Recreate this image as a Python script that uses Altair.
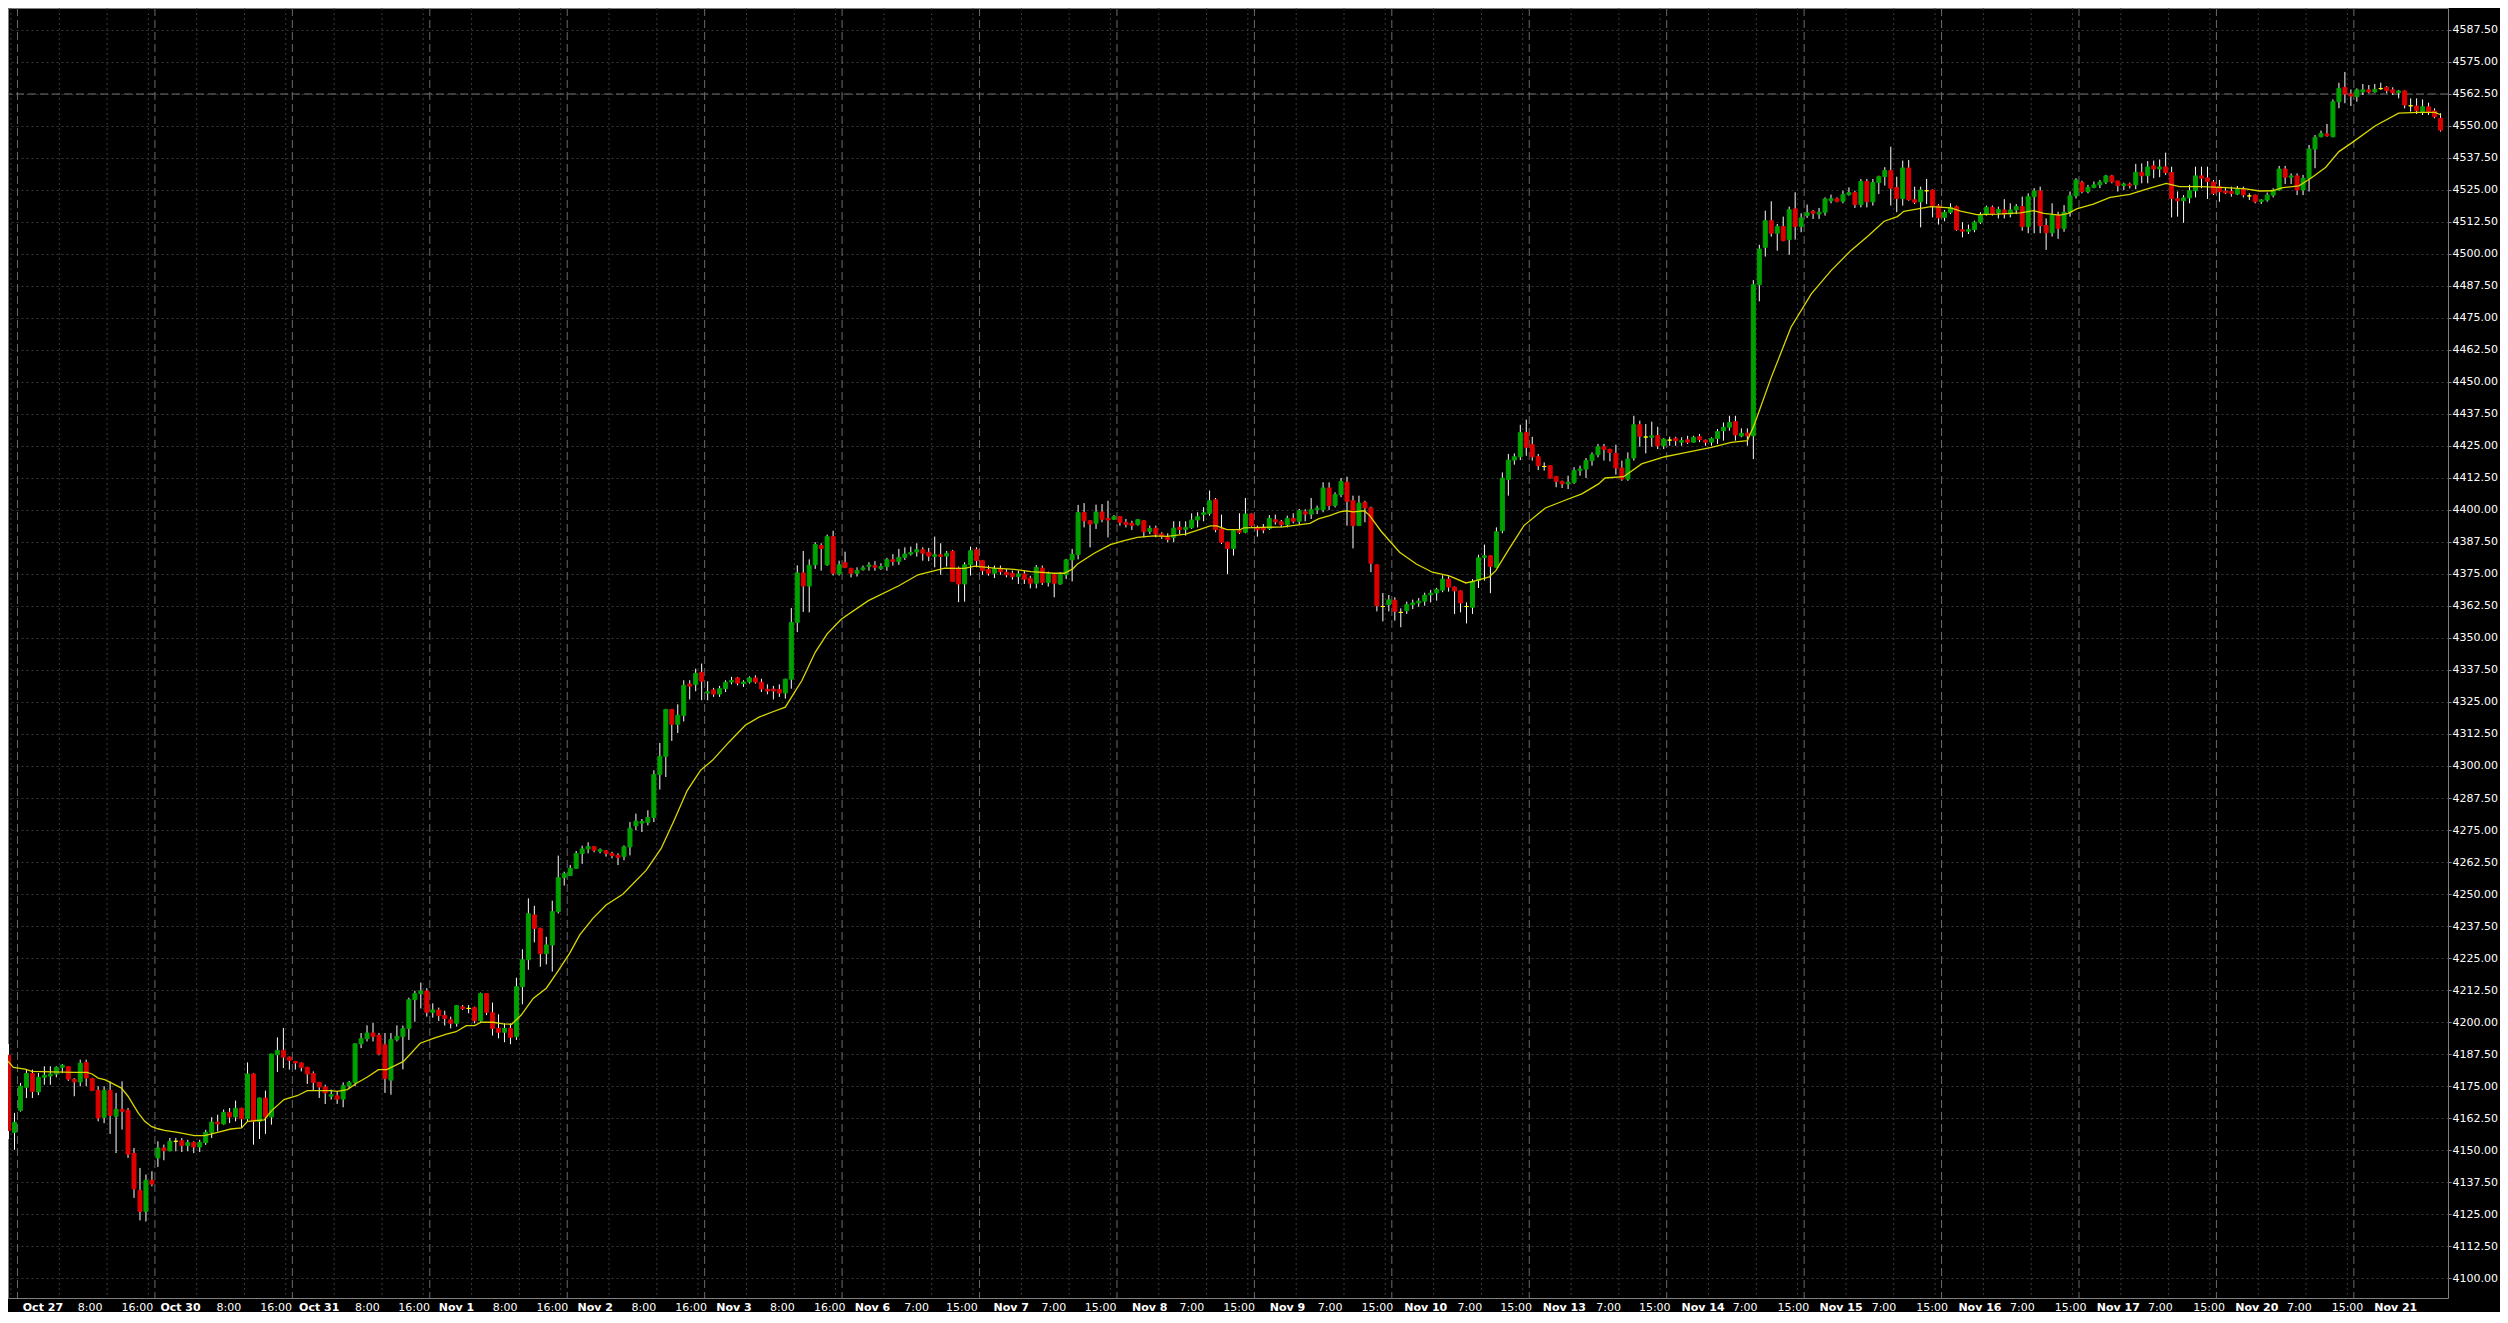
import altair as alt
import pandas as pd

# ---------------- data (H1 candles) ----------------
opens = [4187.0,4156.9,4165.5,4174.5,4179.9,4172.7,4178.4,4178.9,4179.7,4182.3,4182.6,4177.6,4176.6,4184.2,4177.9,4173.3,4162.8,4173.3,4163.2,4165.9,
4165.5,4148.7,4134.2,4126.0,4138.2,4146.9,4150.8,4149.7,4153.4,4153.6,4151.8,4152.9,4151.2,4152.9,4156.9,4160.9,4160.2,4164.7,4162.9,4166.3,
4162.2,4179.7,4161.2,4170.3,4162.9,4187.2,4188.9,4186.3,4184.6,4184.0,4182.3,4179.9,4176.4,4174.6,4171.0,4171.2,4169.9,4175.1,4176.4,4191.5,
4193.5,4195.7,4194.8,4191.1,4177.3,4193.1,4194.4,4197.5,4208.7,4211.1,4212.1,4203.8,4204.7,4202.5,4200.9,4199.5,4205.9,4205.3,4205.6,4200.5,
4211.1,4203.6,4197.5,4196.0,4197.5,4194.3,4213.8,4224.3,4241.8,4236.6,4226.7,4230.1,4243.1,4256.4,4257.2,4260.0,4265.8,4267.6,4268.5,4266.7,
4266.9,4265.8,4265.1,4264.7,4268.4,4276.6,4277.7,4278.0,4279.9,4296.7,4303.8,4322.1,4316.3,4319.8,4332.0,4331.8,4336.6,4328.5,4329.7,4328.1,
4330.2,4332.8,4334.4,4332.2,4332.8,4334.4,4332.7,4330.0,4330.0,4329.9,4328.5,4333.9,4356.1,4375.4,4370.3,4378.6,4386.1,4378.6,4389.6,4375.0,
4379.4,4377.2,4375.3,4376.7,4377.9,4378.3,4377.2,4377.9,4380.6,4379.9,4381.5,4382.8,4383.6,4384.5,4383.5,4381.9,4382.5,4382.0,4383.9,4377.3,
4371.1,4378.6,4384.5,4380.2,4376.7,4375.3,4377.2,4375.7,4375.3,4374.0,4375.0,4373.3,4371.4,4377.3,4371.7,4374.7,4371.1,4374.7,4380.5,4382.6,
4399.0,4395.8,4394.8,4399.2,4396.7,4396.4,4397.4,4395.2,4394.8,4394.3,4395.8,4391.7,4392.9,4390.6,4389.3,4389.3,4393.2,4392.4,4393.1,4396.1,
4398.3,4398.7,4404.0,4392.6,4387.4,4385.0,4391.9,4391.3,4398.4,4393.2,4393.2,4392.8,4396.2,4395.4,4394.3,4396.7,4395.6,4399.3,4398.4,4400.1,
4400.1,4408.6,4401.7,4406.0,4410.8,4403.6,4393.9,4403.0,4400.8,4378.6,4362.3,4363.0,4364.8,4360.0,4360.7,4363.0,4363.7,4364.4,4366.9,4367.6,
4368.7,4373.0,4369.9,4368.4,4362.3,4362.0,4372.4,4381.5,4382.1,4377.6,4391.9,4411.9,4419.5,4420.8,4430.2,4425.5,4420.8,4417.0,4417.3,4413.0,
4411.1,4410.2,4410.8,4415.4,4416.0,4419.3,4421.6,4424.7,4423.7,4422.1,4416.4,4412.1,4420.3,4433.3,4428.5,4428.4,4429.0,4425.1,4427.3,4428.0,
4426.5,4427.4,4426.5,4428.6,4427.3,4426.5,4427.9,4431.0,4432.3,4434.5,4428.9,4430.0,4429.0,4488.0,4502.6,4513.0,4508.1,4510.7,4505.6,4517.6,
4510.7,4515.0,4516.7,4515.6,4516.3,4520.8,4521.6,4520.6,4523.2,4524.0,4519.3,4528.3,4520.4,4527.9,4530.2,4532.6,4526.0,4521.7,4533.6,4521.2,
4520.4,4524.7,4525.0,4518.8,4514.3,4516.3,4518.5,4509.5,4508.9,4509.5,4512.4,4515.4,4518.2,4516.1,4517.2,4515.6,4517.2,4518.5,4510.7,4522.4,
4524.6,4511.1,4508.3,4515.2,4510.0,4516.3,4522.7,4528.0,4524.4,4526.0,4527.0,4528.1,4530.5,4528.5,4526.7,4527.3,4527.0,4531.9,4530.6,4534.4,
4533.2,4534.0,4531.8,4521.6,4520.8,4521.9,4524.7,4530.5,4529.7,4528.1,4526.3,4524.6,4524.4,4523.4,4525.3,4522.7,4523.0,4520.5,4521.1,4523.0,
4525.0,4533.2,4530.0,4530.5,4525.0,4529.6,4541.0,4545.8,4546.9,4545.8,4559.5,4565.1,4562.5,4561.5,4563.3,4564.1,4563.3,4564.6,4565.1,4564.1,
4563.0,4563.7,4557.9,4557.8,4555.6,4557.5,4555.9,4553.0]

highs = [4191.4,4164.5,4176.2,4181.4,4181.4,4180.1,4182.7,4182.7,4182.7,4183.6,4182.8,4178.1,4185.3,4185.3,4178.2,4174.9,4174.9,4176.8,4172.3,4176.8,
4166.4,4150.8,4143.0,4140.4,4141.7,4153.4,4152.1,4154.7,4154.7,4154.7,4154.0,4153.4,4154.0,4157.9,4162.8,4163.8,4165.8,4166.4,4169.3,4166.5,
4184.2,4180.0,4170.5,4173.2,4187.6,4194.0,4197.7,4186.5,4184.8,4184.2,4182.5,4180.7,4176.6,4175.5,4173.6,4172.9,4176.4,4177.0,4191.5,4195.7,
4198.7,4199.6,4195.7,4195.7,4195.7,4198.7,4198.6,4209.5,4212.2,4215.4,4213.2,4207.3,4205.6,4204.4,4202.1,4206.6,4206.6,4206.6,4206.0,4211.5,
4211.3,4207.6,4203.0,4199.5,4199.5,4217.3,4228.4,4248.3,4245.4,4236.8,4233.3,4247.4,4265.0,4258.7,4261.3,4266.8,4268.9,4270.2,4268.7,4267.8,
4267.1,4266.5,4265.9,4269.0,4278.1,4281.4,4279.3,4282.7,4298.3,4309.0,4322.3,4322.3,4324.1,4333.5,4333.5,4338.0,4340.0,4333.1,4330.5,4331.3,
4333.5,4334.8,4334.8,4333.5,4335.0,4335.4,4334.1,4331.9,4331.3,4331.9,4334.1,4361.7,4378.4,4384.0,4380.7,4387.4,4387.0,4390.4,4391.9,4380.2,
4383.7,4377.4,4377.6,4378.3,4379.6,4380.0,4379.2,4381.3,4382.8,4384.8,4385.4,4385.7,4387.0,4385.4,4385.2,4389.6,4387.0,4384.0,4384.4,4377.9,
4379.6,4385.7,4385.4,4380.5,4378.3,4378.3,4378.3,4376.9,4376.3,4376.3,4376.3,4374.3,4378.5,4378.3,4375.9,4375.0,4375.7,4380.9,4384.8,4402.0,
4402.7,4396.0,4402.1,4402.3,4403.6,4398.0,4397.6,4396.5,4395.8,4396.5,4396.0,4393.9,4393.9,4391.3,4390.9,4395.6,4395.6,4395.6,4398.7,4399.1,
4401.1,4407.6,4404.7,4398.2,4387.6,4392.1,4398.7,4404.7,4398.7,4393.9,4394.5,4398.0,4398.2,4396.1,4397.8,4398.7,4400.4,4400.3,4404.7,4401.7,
4410.8,4410.8,4406.9,4412.5,4413.0,4405.6,4405.6,4403.6,4401.3,4378.8,4367.6,4366.8,4365.9,4361.6,4364.2,4365.0,4365.6,4367.7,4368.8,4369.6,
4374.5,4374.1,4370.1,4368.6,4363.9,4373.0,4382.5,4386.5,4382.3,4393.2,4414.7,4421.9,4422.1,4433.3,4435.3,4428.6,4421.9,4418.6,4417.5,4413.2,
4411.5,4413.4,4416.7,4417.3,4420.3,4422.5,4425.8,4425.8,4423.9,4425.5,4419.3,4422.5,4436.8,4434.9,4433.6,4434.5,4432.5,4428.1,4428.6,4428.6,
4428.4,4429.0,4429.0,4429.7,4427.5,4428.4,4431.6,4434.2,4436.8,4436.8,4431.9,4431.9,4489.8,4503.6,4516.9,4520.6,4511.7,4514.6,4518.5,4524.1,
4515.9,4519.3,4517.2,4518.0,4522.1,4523.2,4522.1,4524.7,4526.0,4524.7,4529.3,4529.3,4529.3,4530.6,4533.9,4541.9,4530.2,4536.5,4536.7,4526.3,
4526.3,4529.3,4525.2,4519.5,4517.2,4519.8,4518.9,4512.4,4511.5,4513.0,4516.3,4518.9,4518.9,4518.5,4521.4,4519.8,4519.5,4522.4,4523.7,4525.7,
4526.3,4513.9,4519.8,4516.5,4519.1,4524.4,4529.6,4528.6,4527.0,4528.3,4528.9,4530.9,4530.9,4528.6,4527.9,4527.9,4535.2,4535.4,4536.3,4536.5,
4536.9,4539.6,4534.1,4524.4,4523.0,4527.0,4534.1,4534.1,4534.1,4528.9,4528.9,4525.7,4526.3,4526.6,4526.3,4523.7,4523.2,4521.4,4524.0,4525.7,
4534.4,4534.4,4531.5,4531.5,4530.9,4542.6,4546.5,4548.2,4550.8,4560.4,4566.9,4571.1,4564.3,4564.7,4566.4,4566.0,4566.4,4566.9,4565.6,4565.1,
4564.1,4563.9,4560.8,4560.8,4560.4,4559.1,4556.9,4555.0]

lows = [4154.3,4150.1,4165.0,4170.3,4170.3,4171.4,4175.5,4175.5,4178.4,4180.0,4177.0,4171.0,4174.9,4174.9,4173.0,4161.2,4160.5,4156.3,4148.8,4158.0,
4146.9,4131.3,4122.5,4122.1,4135.8,4143.4,4146.0,4149.5,4149.5,4149.2,4149.5,4148.8,4149.2,4152.0,4154.7,4157.3,4159.9,4160.5,4161.2,4158.6,
4161.2,4152.1,4154.3,4156.3,4159.9,4180.5,4182.0,4181.4,4181.4,4180.7,4175.8,4173.2,4170.3,4168.0,4169.7,4168.0,4166.7,4174.0,4174.9,4189.8,
4192.4,4192.4,4187.0,4172.3,4171.6,4192.4,4181.5,4193.0,4200.1,4205.3,4202.1,4201.7,4200.4,4198.6,4197.5,4198.2,4204.7,4203.4,4199.5,4200.1,
4202.7,4194.7,4193.6,4192.1,4191.3,4193.0,4206.9,4220.4,4231.1,4221.6,4222.5,4219.7,4242.4,4253.3,4257.0,4259.8,4261.8,4265.9,4266.3,4265.9,
4264.6,4263.9,4261.3,4263.2,4265.1,4274.9,4274.2,4276.8,4278.1,4290.8,4295.7,4309.8,4312.9,4317.4,4326.0,4329.2,4325.7,4325.7,4327.0,4327.0,
4328.9,4331.9,4331.5,4330.9,4332.2,4332.2,4328.9,4328.0,4326.0,4327.0,4326.3,4330.2,4352.3,4360.2,4360.0,4377.0,4376.3,4378.2,4374.4,4374.4,
4377.3,4373.7,4374.0,4376.3,4376.3,4376.3,4376.6,4376.3,4378.3,4378.6,4380.5,4382.2,4381.8,4380.2,4380.0,4377.6,4374.7,4377.9,4372.1,4364.0,
4364.2,4374.4,4377.6,4374.7,4374.4,4373.4,4374.7,4373.7,4372.8,4371.1,4371.1,4369.4,4369.4,4370.7,4370.1,4365.9,4370.8,4373.0,4372.1,4380.7,
4393.2,4385.4,4392.6,4395.2,4389.3,4396.1,4393.9,4393.2,4392.2,4393.9,4389.3,4390.6,4389.3,4388.7,4387.4,4387.4,4390.6,4390.0,4392.6,4393.2,
4395.6,4397.8,4391.3,4386.7,4375.0,4382.2,4390.6,4390.9,4393.5,4389.6,4390.9,4392.2,4394.3,4393.2,4393.2,4394.8,4394.5,4395.6,4396.5,4398.4,
4399.1,4400.0,4401.0,4405.0,4393.9,4385.0,4393.9,4395.2,4375.7,4360.4,4356.5,4360.4,4356.8,4354.2,4359.4,4361.3,4362.2,4362.6,4363.9,4364.6,
4367.9,4368.1,4359.4,4360.0,4355.7,4359.4,4369.5,4372.4,4367.5,4377.6,4390.9,4405.6,4417.7,4419.5,4421.2,4419.3,4415.6,4415.4,4412.3,4408.9,
4408.6,4408.2,4410.2,4413.4,4412.5,4417.3,4420.6,4419.3,4419.0,4413.8,4411.4,4411.4,4419.3,4424.7,4422.1,4424.7,4423.8,4423.8,4425.1,4425.1,
4425.1,4425.8,4426.3,4426.5,4425.1,4425.1,4425.8,4427.1,4431.0,4427.1,4428.4,4425.1,4419.9,4481.5,4499.0,4506.8,4501.3,4505.0,4499.7,4505.6,
4508.5,4514.1,4513.7,4513.7,4515.0,4519.8,4520.2,4519.8,4522.8,4518.0,4518.2,4518.2,4518.9,4523.4,4526.7,4518.9,4516.3,4518.9,4520.8,4519.5,
4510.4,4519.5,4514.3,4511.5,4512.8,4515.6,4509.1,4506.5,4507.8,4508.5,4511.7,4515.0,4515.0,4513.9,4513.9,4514.3,4515.6,4509.1,4508.1,4508.1,
4508.1,4501.6,4506.8,4505.9,4508.7,4514.6,4521.7,4523.7,4523.7,4525.7,4525.7,4527.3,4527.6,4524.4,4525.0,4525.6,4525.3,4527.6,4527.6,4529.6,
4530.0,4530.9,4514.3,4514.6,4512.2,4519.8,4522.1,4525.7,4521.5,4523.0,4520.4,4523.4,4522.4,4523.0,4522.1,4521.1,4519.8,4519.5,4520.4,4522.1,
4524.7,4527.3,4527.3,4523.0,4523.0,4524.4,4533.5,4545.6,4545.8,4545.6,4556.9,4558.9,4557.8,4559.5,4562.1,4562.8,4563.0,4564.1,4562.8,4562.1,
4560.8,4556.9,4555.6,4554.7,4554.3,4554.3,4553.0,4547.8]

closes = [4157.6,4160.8,4174.9,4179.9,4172.9,4178.4,4179.2,4179.7,4182.3,4183.1,4177.7,4176.6,4183.9,4178.1,4173.3,4162.5,4173.3,4163.5,4165.9,4165.1,
4148.4,4134.8,4126.0,4138.2,4136.7,4150.8,4149.7,4153.4,4153.4,4151.8,4152.9,4151.2,4152.9,4156.9,4160.9,4160.2,4164.7,4162.9,4166.3,4162.2,
4179.7,4161.2,4170.3,4162.9,4187.5,4188.9,4186.3,4185.0,4184.0,4182.3,4179.7,4176.4,4174.6,4172.3,4171.6,4169.9,4175.1,4176.4,4191.5,4193.5,
4195.7,4194.4,4187.5,4177.9,4193.1,4194.4,4197.4,4208.7,4211.1,4212.1,4203.8,4204.7,4202.5,4201.4,4199.5,4206.4,4205.2,4205.3,4200.5,4211.1,
4203.8,4197.5,4196.0,4197.5,4194.0,4213.8,4224.3,4242.3,4236.6,4226.7,4230.1,4243.1,4256.4,4257.9,4260.0,4265.8,4267.6,4268.5,4267.1,4267.3,
4265.9,4265.0,4264.3,4268.4,4275.7,4278.4,4278.3,4279.9,4296.7,4303.8,4322.1,4316.3,4319.8,4331.5,4331.2,4336.2,4333.1,4329.0,4328.1,4330.2,
4332.7,4333.4,4332.4,4332.8,4334.4,4332.8,4330.1,4329.3,4329.3,4328.5,4333.9,4356.1,4375.4,4370.3,4378.4,4386.5,4385.0,4389.6,4375.3,4378.6,
4377.6,4375.3,4376.4,4377.4,4378.5,4377.6,4377.9,4380.6,4379.9,4381.5,4382.8,4383.4,4384.5,4383.1,4382.0,4382.5,4381.9,4383.1,4372.1,4371.1,
4378.6,4384.1,4380.2,4376.3,4375.3,4377.2,4375.9,4374.7,4374.0,4375.0,4373.0,4371.4,4377.6,4371.7,4375.0,4371.4,4374.7,4380.5,4382.6,4399.0,
4395.8,4394.5,4399.2,4396.4,4396.1,4397.4,4395.2,4394.3,4394.0,4396.2,4391.5,4392.8,4390.6,4389.6,4388.5,4392.9,4392.4,4393.1,4396.1,4397.4,
4398.9,4403.6,4392.3,4387.4,4385.0,4391.9,4391.3,4398.4,4393.9,4392.3,4392.2,4396.7,4395.4,4394.3,4396.7,4395.6,4399.7,4398.4,4400.1,4400.7,
4408.6,4401.7,4406.0,4411.1,4403.4,4393.9,4402.7,4400.8,4379.2,4362.6,4362.3,4364.9,4360.4,4360.0,4363.0,4363.7,4364.4,4366.7,4367.5,4368.9,
4373.0,4369.9,4368.4,4363.7,4362.3,4372.1,4381.3,4382.1,4378.0,4391.5,4412.4,4419.5,4420.8,4430.2,4424.5,4420.8,4417.3,4417.0,4412.5,4411.2,
4410.2,4410.8,4415.4,4416.0,4419.3,4421.6,4424.7,4423.7,4422.5,4416.4,4412.1,4419.9,4433.3,4428.8,4428.5,4429.0,4425.1,4427.7,4427.3,4427.1,
4427.1,4426.5,4428.4,4427.5,4426.5,4427.9,4430.6,4432.3,4434.2,4429.3,4430.0,4429.0,4488.0,4501.9,4513.0,4508.1,4510.7,4505.2,4517.3,4510.7,
4514.1,4516.1,4515.9,4516.3,4521.5,4521.6,4520.6,4523.2,4524.0,4519.3,4528.3,4520.4,4527.9,4530.2,4532.6,4525.7,4521.7,4533.6,4521.2,4520.2,
4525.0,4524.7,4518.9,4514.1,4516.3,4518.2,4509.5,4508.9,4509.5,4512.4,4515.4,4518.2,4515.6,4517.4,4515.6,4517.2,4518.5,4510.7,4522.4,4524.6,
4511.1,4508.3,4515.2,4510.0,4516.3,4522.7,4528.9,4524.4,4526.0,4527.0,4528.1,4530.5,4528.2,4526.7,4527.3,4526.7,4531.9,4530.6,4534.0,4533.2,
4534.0,4531.8,4521.7,4520.8,4521.9,4524.7,4530.5,4529.6,4528.3,4523.7,4524.3,4523.9,4523.7,4525.3,4523.1,4522.7,4520.4,4521.1,4523.0,4525.0,
4533.2,4530.0,4530.5,4525.0,4529.6,4541.0,4545.6,4547.1,4546.2,4559.5,4564.7,4562.5,4561.7,4564.1,4564.1,4563.3,4564.3,4564.6,4563.8,4563.0,
4563.7,4558.2,4557.9,4556.0,4557.5,4555.6,4553.6,4548.4]

# moving average line, read at sampled bar positions
ma_idx = [-0.55,0.8,2.8,3.9,7.2,11.1,13.1,14,15,16.1,17.2,18.9,20,21.7,22.8,23.9,25,26.1,28.3,31.1,32.8,35,37.2,39,40,42.8,43.9,46.1,48.3,50,
53.9,55,56.7,58.3,60,61.9,63.3,66.1,68.9,71.1,73.3,74.9,76.6,78,79.1,81.1,82.8,84.2,85.8,87.8,90,91.7,93.9,95.6,97.8,100,102.8,106.7,109.2,111.4,
113.6,115.8,117.8,120.6,123.3,125.6,127.8,130,131.4,132.8,135,137,139.4,143.9,149,152.2,155,156.7,158.9,160,161.7,165,168.3,171.1,175,176.7,178.1,178.9,181.7,184.4,
186.7,188.9,191.7,193.9,197,199.4,201.1,202.2,203.9,206.1,206.7,213.3,217.8,219.2,221.1,222.8,223.9,225,226.9,227.8,229.7,232.8,235.6,238.3,241.1,243.9,
245.6,247.8,248.9,251.1,253.6,257.2,260.6,263.3,266.1,267.2,270.3,273.3,277.2,280,285,288.3,291,292.2,295,298.3,301.7,305,308.3,311.1,313.9,316.1,317.2,
320,321.7,325,326.7,329.4,332.8,336.7,338.9,340.6,343.3,344.7,346.1,348.9,351.7,355,357.8,361.1,363.3,367.1,371.1,374.4,376.7,378.9,380.6,383.3,385.3,
387.8,390,392.2,396.1,400,403.3,406.1,407.1]
ma_val = [4185.9,4182.3,4181.6,4180.7,4180.5,4180.3,4180.3,4179.7,4178.1,4177.5,4176.2,4174.2,4171.0,4164.5,4161.2,4159.2,4158.3,4157.7,4156.9,4155.6,4155.6,4156.9,4158.2,4158.6,4161.2,4161.8,4165.1,4169.7,4171.2,4173.2,
4173.2,4172.9,4173.6,4176.2,4178.4,4181.4,4181.4,4184.6,4191.7,4193.6,4195.3,4196.2,4198.6,4198.6,4199.9,4199.9,4199.3,4199.1,4202.7,4209.2,4213.2,4219.0,4226.8,4234.0,4240.5,4245.7,4249.9,4259.2,4267.7,4278.8,
4290.5,4298.3,4302.2,4309.4,4315.9,4319.1,4321.1,4323.0,4328.3,4333.5,4344.4,4351.6,4357.4,4364.6,4370.4,4374.7,4376.3,4377.3,4377.2,4377.2,4378.1,4377.3,4376.8,4375.9,4375.3,4375.3,4377.0,4378.9,4383.1,4386.5,
4388.0,4389.3,4389.9,4389.7,4390.6,4392.4,4393.8,4393.8,4392.3,4392.3,4393.0,4393.4,4394.8,4396.5,4397.8,4399.3,4399.7,4399.3,4399.7,4397.8,4391.7,4383.5,4378.9,4375.7,4374.3,4371.5,
4372.4,4373.9,4376.3,4384.7,4393.9,4400.8,4403.9,4406.3,4410.2,4412.5,4413.0,4418.0,4420.8,4422.1,4424.5,4426.4,4427.1,4433.6,4451.8,4471.4,4484.4,4493.5,4501.3,4506.8,4512.8,4514.6,4516.7,
4517.8,4518.5,4518.0,4516.7,4515.4,4515.6,4516.1,4516.9,4515.9,4515.2,4515.9,4517.6,4519.5,4522.1,4523.3,4525.3,4527.6,4526.3,4526.3,4525.9,4525.4,4524.6,4524.7,4525.9,4526.6,4529.6,
4533.9,4540.0,4543.5,4550.1,4555.0,4555.3,4555.3,4554.3]

# time axis: first bar of each trading day, intraday label hours, and where each label sits (px)
day_labels = ["Oct 27", "Oct 30", "Oct 31", "Nov 1", "Nov 2", "Nov 3", "Nov 6", "Nov 7", "Nov 8",
              "Nov 9", "Nov 10", "Nov 13", "Nov 14", "Nov 15", "Nov 16", "Nov 17", "Nov 20", "Nov 21"]
day_first_bar = [2, 25, 48, 71, 94, 117, 140, 163, 186, 209, 232, 255, 278, 301, 324, 347, 370, 393]
time_labels = [["8:00", "16:00"]] * 6 + [["7:00", "15:00"]] * 11 + [[]]
time_bar_offsets = [7, 15]
label_left_px = [17.1, 72.3, 116.2, 155.3, 211.6, 255.5, 294.6, 350.8, 394.2, 434.9, 489.0, 532.9,
                 574.2, 628.3, 672.2, 713.4, 767.5, 811.5, 852.5, 902.3, 944.1, 991.8, 1040.0, 1083.4,
                 1131.0, 1178.7, 1222.6, 1269.2, 1317.4, 1361.3, 1404.2, 1457.7, 1500.6, 1543.4, 1597.0,
                 1639.9, 1682.7, 1734.1, 1779.0, 1821.2, 1873.6, 1918.5, 1960.7, 2012.6, 2057.5, 2099.7,
                 2151.1, 2196.5, 2238.7, 2290.6, 2335.5, 2378.2]

price_ticks = [4100 + 12.5 * k for k in range(40)]
marked_level = [4562.5]

# ---------------- tables ----------------
dirs = ["up" if c > o else ("down" if c < o else "flat") for o, c in zip(opens, closes)]
candles = pd.DataFrame({"i": list(range(len(opens))), "o": opens, "h": highs,
                        "l": lows, "c": closes, "dir": dirs})
ma = pd.DataFrame({"i": ma_idx, "v": ma_val})

BAR_PX, BAR0_PX = 6.0, 3.3   # bar spacing and first bar centre in the reference picture

grid_pos, grid_kind, lab_text, lab_bold = [], [], [], []
for lab, s, tl in zip(day_labels, day_first_bar, time_labels):
    grid_pos += [s - 0.5, s - 1.6]; grid_kind += ["day", "dot"]
    lab_text.append(lab); lab_bold.append(True)
    for off, t in zip(time_bar_offsets, tl):
        grid_pos.append(s + off - 0.5); grid_kind.append("dot")
        lab_text.append(t); lab_bold.append(False)
grid = pd.DataFrame({"pos": grid_pos, "kind": grid_kind})
lab_pos = [round((x - BAR0_PX) / BAR_PX, 3) for x in label_left_px]

pos_js = "[" + ",".join(repr(float(p)) for p in lab_pos) + "]"
txt_js = "[" + ",".join("'" + t + "'" for t in lab_text) + "]"
bold_js = "[" + ",".join(repr(float(p)) for p, b in zip(lab_pos, lab_bold) if b) + "]"

# ---------------- scales / axes ----------------
PLOT_W, PLOT_H = 2440, 1290
xs = alt.Scale(domain=[0.75, 407.4167], nice=False, zero=False)
ys = alt.Scale(domain=[4092.19, 4596.09], nice=False, zero=False)
FONT = "DejaVu Sans"

x_axis = alt.Axis(values=lab_pos, labelExpr=f"{txt_js}[indexof({pos_js}, datum.value)]",
                  labelAlign="left", labelBaseline="top", labelPadding=3,
                  labelColor="#ffffff", labelFont=FONT, labelFontSize=11,
                  labelFontWeight=alt.condition(f"indexof({bold_js}, datum.value) >= 0",
                                                alt.value("bold"), alt.value("normal")),
                  labelOverlap=False, labelFlush=False, labelBound=False,
                  ticks=False, domain=False, grid=False, title=None)
y_axis = alt.Axis(orient="right", values=price_ticks, format=".2f", tickSize=3,
                  tickColor="#8a8a8a", labelColor="#ffffff", labelFont=FONT, labelFontSize=11,
                  labelPadding=1, domain=False, grid=True, gridColor="#3a3a3a",
                  gridDash=[2, 3], gridWidth=1, labelOverlap=False, labelFlush=False,
                  labelBound=False, title=None)

X = lambda f: alt.X(f, scale=xs, axis=x_axis, title=None)
Y = lambda f: alt.Y(f, scale=ys, axis=y_axis, title=None)

vgrid = alt.Chart(grid).transform_filter("datum.kind == 'dot'").mark_rule(
    color="#3a3a3a", strokeDash=[2, 3], strokeWidth=1
).encode(x=X("pos:Q"))

vday = alt.Chart(grid).transform_filter("datum.kind == 'day'").mark_rule(
    color="#6a6a6a", strokeDash=[8, 4], strokeWidth=1
).encode(x=X("pos:Q"))

hline = alt.Chart(pd.DataFrame({"p": marked_level})).mark_rule(
    color="#707070", strokeDash=[8, 4], strokeWidth=1
).encode(y=Y("p:Q"))

wicks = alt.Chart(candles).mark_rule(color="#ffffff", strokeWidth=1, clip=True).encode(
    x=X("i:Q"), y=Y("l:Q"), y2="h:Q",
)

dir_scale = alt.Scale(domain=["up", "down", "flat"], range=["#00a000", "#dc0000", "#ffff00"])
bodies = alt.Chart(candles).mark_bar(size=4, strokeWidth=1, clip=True).encode(
    x=X("i:Q"), y=Y("o:Q"), y2="c:Q",
    color=alt.Color("dir:N", scale=dir_scale, legend=None),
    stroke=alt.Stroke("dir:N", scale=dir_scale, legend=None),
)

ma_line = alt.Chart(ma).mark_line(color="#d8d800", strokeWidth=1.3, clip=True).encode(
    x=X("i:Q"), y=Y("v:Q"),
)

chart = alt.layer(vgrid, vday, hline, wicks, bodies, ma_line).properties(
    width=PLOT_W, height=PLOT_H,
    autosize=alt.AutoSizeParams(type="none"),
    padding={"left": 0, "top": 0, "right": 52, "bottom": 14},
    background="#000000",
).configure_view(stroke="#808080", strokeWidth=1, fill="#000000")

chart.save("out.html", embed_options={"renderer": "svg", "actions": False})
